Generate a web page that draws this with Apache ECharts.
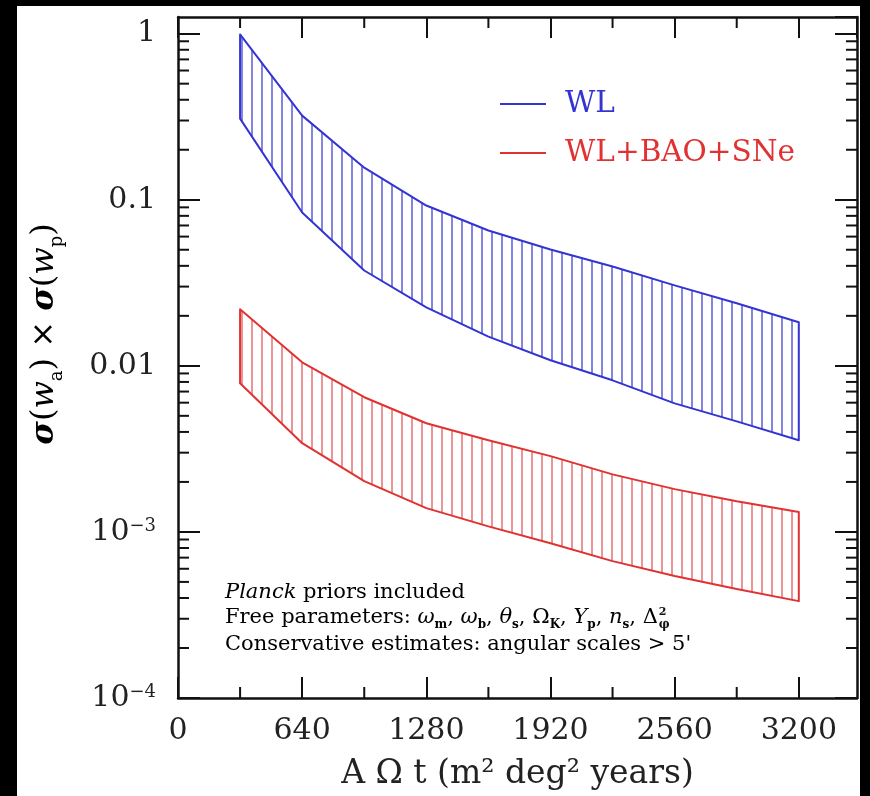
<!DOCTYPE html>
<html>
<head>
<meta charset="utf-8">
<script src="https://cdn.jsdelivr.net/npm/echarts@6/dist/echarts.min.js"></script>
<style>
  html, body { margin: 0; padding: 0; width: 870px; height: 796px; background: #000; overflow: hidden; }
  #chart { position: absolute; left: 17px; top: 6px; width: 843px; height: 790px; background: #fff; }
</style>
</head>
<body>
<div id="chart"></div>
<script>
// Survey exposure A*Omega*t (m^2 deg^2 years)
const exposure = [320, 640, 960, 1280, 1600, 1920, 2240, 2560, 2880, 3200];

// sigma(w_a) x sigma(w_p): weak lensing alone
const wlUpper = [0.99, 0.321, 0.156, 0.0923, 0.0653, 0.0502, 0.0396, 0.0305, 0.0238, 0.0183];
const wlLower = [0.308, 0.0838, 0.0375, 0.0225, 0.0150, 0.0108, 0.00818, 0.00594, 0.00463, 0.00356];

// sigma(w_a) x sigma(w_p): weak lensing + BAO + supernovae
const combUpper = [0.0219, 0.0105, 0.00647, 0.00451, 0.00356, 0.00286, 0.00222, 0.00181, 0.00153, 0.00132];
const combLower = [0.00785, 0.00342, 0.00202, 0.00139, 0.00108, 0.000855, 0.000667, 0.000542, 0.000453, 0.000383];

// Axis ticks
const xMajorTicks = [0, 640, 1280, 1920, 2560, 3200];
const xMinorTicks = [320, 960, 1600, 2240, 2880];
const yMajorTicks = [1e-4, 1e-3, 1e-2, 1e-1, 1];
const yMinorTicks = [];
for (let e = -4; e <= -1; e++) {
  for (let m = 2; m <= 9; m++) yMinorTicks.push(m * Math.pow(10, e));
}

const FONT = 'DejaVu Serif';
const INK = '#111';
const LABEL = '#222';
const BLUE = '#3434d2';
const RED = '#e03232';

// vertical hatching used to fill the bands
function hatch(color) {
  const c = document.createElement('canvas');
  c.width = 10; c.height = 4;
  const g = c.getContext('2d');
  g.fillStyle = color;
  g.fillRect(4, 0, 2, 4);
  return { image: c, repeat: 'repeat' };
}

function bandSeries(name, color, hatchColor, upper, lower) {
  const pattern = hatch(hatchColor);
  return {
    name: name,
    type: 'custom',
    xAxisIndex: 0,
    yAxisIndex: 0,
    itemStyle: { color: color },
    data: exposure.map((x, i) => [x, upper[i], lower[i]]),
    encode: { x: 0, y: [1, 2] },
    renderItem: function (params, api) {
      if (params.dataIndex !== 0) return null;
      const top = exposure.map((x, i) => api.coord([x, upper[i]]));
      const bot = exposure.map((x, i) => api.coord([x, lower[i]])).reverse();
      return {
        type: 'polygon',
        shape: { points: top.concat(bot) },
        style: { fill: pattern, stroke: color, lineWidth: 2, lineJoin: 'round' }
      };
    },
    z: 3
  };
}

function yLabel(v) {
  const e = Math.log10(v);
  const r = Math.round(e);
  if (Math.abs(e - r) > 1e-6 || r > 0) return '';
  if (r === 0) return '1';
  if (r === -1) return '0.1';
  if (r === -2) return '0.01';
  return '{b|10}{s|\u2212' + (-r) + '}';
}

function xLabel(v) {
  return xMajorTicks.indexOf(v) >= 0 ? String(v) : '';
}

const MAJOR = 21, MINOR = 11;

function baseX(pos, showLabel) {
  return {
    type: 'value', position: pos, min: 0, max: 3500, interval: 640,
    axisLine: { show: true, onZero: false, lineStyle: { color: INK, width: 2.5 } },
    axisTick: { show: true, inside: true, length: MAJOR, lineStyle: { color: INK, width: 2 } },
    axisLabel: {
      show: showLabel, margin: 18, formatter: xLabel, showMaxLabel: false,
      fontFamily: FONT, fontSize: 30, color: LABEL
    },
    splitLine: { show: false }
  };
}

function baseY(pos, showLabel) {
  return {
    type: 'log', logBase: 10, position: pos, min: 1e-4, max: 1.26,
    axisLine: { show: true, onZero: false, lineStyle: { color: INK, width: 2.5 } },
    axisTick: { show: true, inside: true, length: MAJOR + 1, lineStyle: { color: INK, width: 2 } },
    axisLabel: {
      show: showLabel, margin: 22, formatter: yLabel, showMaxLabel: false,
      fontFamily: FONT, fontSize: 30, color: LABEL,
      rich: {
        b: { fontFamily: FONT, fontSize: 30, color: LABEL, lineHeight: 30, verticalAlign: 'bottom' },
        s: { fontFamily: FONT, fontSize: 18, color: LABEL, lineHeight: 16, verticalAlign: 'top' }
      }
    },
    splitLine: { show: false }
  };
}

const xAxisBottom = baseX('bottom', true);
xAxisBottom.name = 'A \u03A9 t (m\u00B2 deg\u00B2 years)';
xAxisBottom.nameLocation = 'middle';
xAxisBottom.nameGap = 60;
xAxisBottom.nameTextStyle = { fontFamily: FONT, fontSize: 33, color: LABEL };

// minor ticks on all four sides of the frame
const minorY = {
  type: 'custom', name: 'yminor', xAxisIndex: 0, yAxisIndex: 0, silent: true,
  data: yMinorTicks.map(v => [0, v]),
  renderItem: function (params, api) {
    const cs = params.coordSys;
    const y = api.coord([0, api.value(1)])[1];
    const st = { stroke: INK, lineWidth: 2 };
    return {
      type: 'group', children: [
        { type: 'line', shape: { x1: cs.x, y1: y, x2: cs.x + MINOR, y2: y }, style: st },
        { type: 'line', shape: { x1: cs.x + cs.width - MINOR, y1: y, x2: cs.x + cs.width, y2: y }, style: st }
      ]
    };
  },
  z: 4
};
const minorX = {
  type: 'custom', name: 'xminor', xAxisIndex: 0, yAxisIndex: 0, silent: true,
  data: xMinorTicks.map(v => [v, 0.01]),
  renderItem: function (params, api) {
    const cs = params.coordSys;
    const x = api.coord([api.value(0), 0.01])[0];
    const st = { stroke: INK, lineWidth: 2 };
    return {
      type: 'group', children: [
        { type: 'line', shape: { x1: x, y1: cs.y + cs.height, x2: x, y2: cs.y + cs.height - MINOR }, style: st },
        { type: 'line', shape: { x1: x, y1: cs.y, x2: x, y2: cs.y + MINOR }, style: st }
      ]
    };
  },
  z: 4
};

// annotation text block
const measureCtx = document.createElement('canvas').getContext('2d');
function textWidth(font, s) { measureCtx.font = font; return measureCtx.measureText(s).width; }

const NOTE = 21;
const noteRich = {
  r: { fontFamily: FONT, fontSize: NOTE, color: INK, lineHeight: 26, verticalAlign: 'middle' },
  i: { fontFamily: FONT, fontSize: NOTE, fontStyle: 'italic', color: INK, lineHeight: 26, verticalAlign: 'middle' },
  g: { fontFamily: FONT, fontSize: NOTE, fontStyle: 'italic', color: INK, lineHeight: 26, verticalAlign: 'middle' },
  u: { fontFamily: FONT, fontSize: NOTE, color: INK, lineHeight: 26, verticalAlign: 'middle' },
  sb: { fontFamily: FONT, fontSize: 12, fontWeight: 'bold', color: INK, lineHeight: 13, verticalAlign: 'bottom' }
};
const fontOf = k => {
  const s = noteRich[k];
  return (s.fontStyle || 'normal') + ' ' + (s.fontWeight || 'normal') + ' ' + s.fontSize + 'px "' + FONT + '"';
};
const paramTokens = [
  ['r', 'Free parameters: '], ['g', '\u03C9'], ['sb', 'm'], ['r', ', '],
  ['g', '\u03C9'], ['sb', 'b'], ['r', ', '],
  ['g', '\u03B8'], ['sb', 's'], ['r', ', '],
  ['u', '\u03A9'], ['sb', 'K'], ['r', ', '],
  ['g', 'Y'], ['sb', 'p'], ['r', ', '],
  ['g', 'n'], ['sb', 's'], ['r', ', '],
  ['u', '\u0394']
];
const paramText = paramTokens.map(t => '{' + t[0] + '|' + t[1] + '}').join('');
const paramWidth = paramTokens.reduce((s, t) => s + textWidth(fontOf(t[0]), t[1]), 0);

const NX = 208;           // left edge of the note block
const NY = [587, 612, 639];

const chart = echarts.init(document.getElementById('chart'), null, { renderer: 'canvas' });
chart.setOption({
  animation: false,
  backgroundColor: '#fff',
  grid: { left: 161, top: 11, width: 679, height: 681, containLabel: false },
  xAxis: [xAxisBottom, baseX('top', false)],
  yAxis: [baseY('left', true), baseY('right', false)],
  legend: {
    data: [
      { name: 'WL', textStyle: { color: BLUE } },
      { name: 'WL+BAO+SNe', textStyle: { color: RED } }
    ],
    orient: 'vertical', left: 478, top: 78,
    icon: 'rect', itemWidth: 46, itemHeight: 2, itemGap: 19,
    selectedMode: false,
    textStyle: { fontFamily: FONT, fontSize: 29.5, lineHeight: 30, padding: [0, 0, 0, 14] }
  },
  series: [
    bandSeries('WL', BLUE, 'rgba(80,80,215,0.7)', wlUpper, wlLower),
    bandSeries('WL+BAO+SNe', RED, 'rgba(228,90,90,0.65)', combUpper, combLower),
    minorY, minorX
  ],
  graphic: [
    {
      type: 'text', x: 28, y: 328, rotation: Math.PI / 2,
      style: {
        text: '{g|\u03C3}{p|(}{w|w}{sb|a}{p|) \u00D7 }{g|\u03C3}{p|(}{w|w}{sb|p}{p|)}',
        align: 'center', verticalAlign: 'middle',
        rich: {
          g: { fontFamily: FONT, fontSize: 32, fontStyle: 'italic', fontWeight: 'bold', color: LABEL, lineHeight: 42, verticalAlign: 'middle' },
          p: { fontFamily: FONT, fontSize: 32, color: LABEL, lineHeight: 42, verticalAlign: 'middle' },
          w: { fontFamily: FONT, fontSize: 32, fontStyle: 'italic', color: LABEL, lineHeight: 42, verticalAlign: 'middle' },
          sb: { fontFamily: FONT, fontSize: 18, color: LABEL, lineHeight: 18, verticalAlign: 'bottom' }
        }
      }
    },
    {
      type: 'text', x: NX, y: NY[0],
      style: { text: '{i|Planck}{r| priors included}', rich: noteRich, verticalAlign: 'middle' }
    },
    {
      type: 'text', x: NX, y: NY[1],
      style: { text: paramText, rich: noteRich, verticalAlign: 'middle' }
    },
    {
      type: 'text', x: NX + paramWidth + 1, y: NY[1] - 6,
      style: { text: '2', fontFamily: FONT, fontSize: 11, fontWeight: 'bold', fill: INK, verticalAlign: 'middle' }
    },
    {
      type: 'text', x: NX + paramWidth + 1, y: NY[1] + 7,
      style: { text: '\u03C6', fontFamily: FONT, fontSize: 12, fontWeight: 'bold', fill: INK, verticalAlign: 'middle' }
    },
    {
      type: 'text', x: NX, y: NY[2],
      style: { text: "{r|Conservative estimates: angular scales > 5'}", rich: noteRich, verticalAlign: 'middle' }
    }
  ]
});
</script>
</body>
</html>
